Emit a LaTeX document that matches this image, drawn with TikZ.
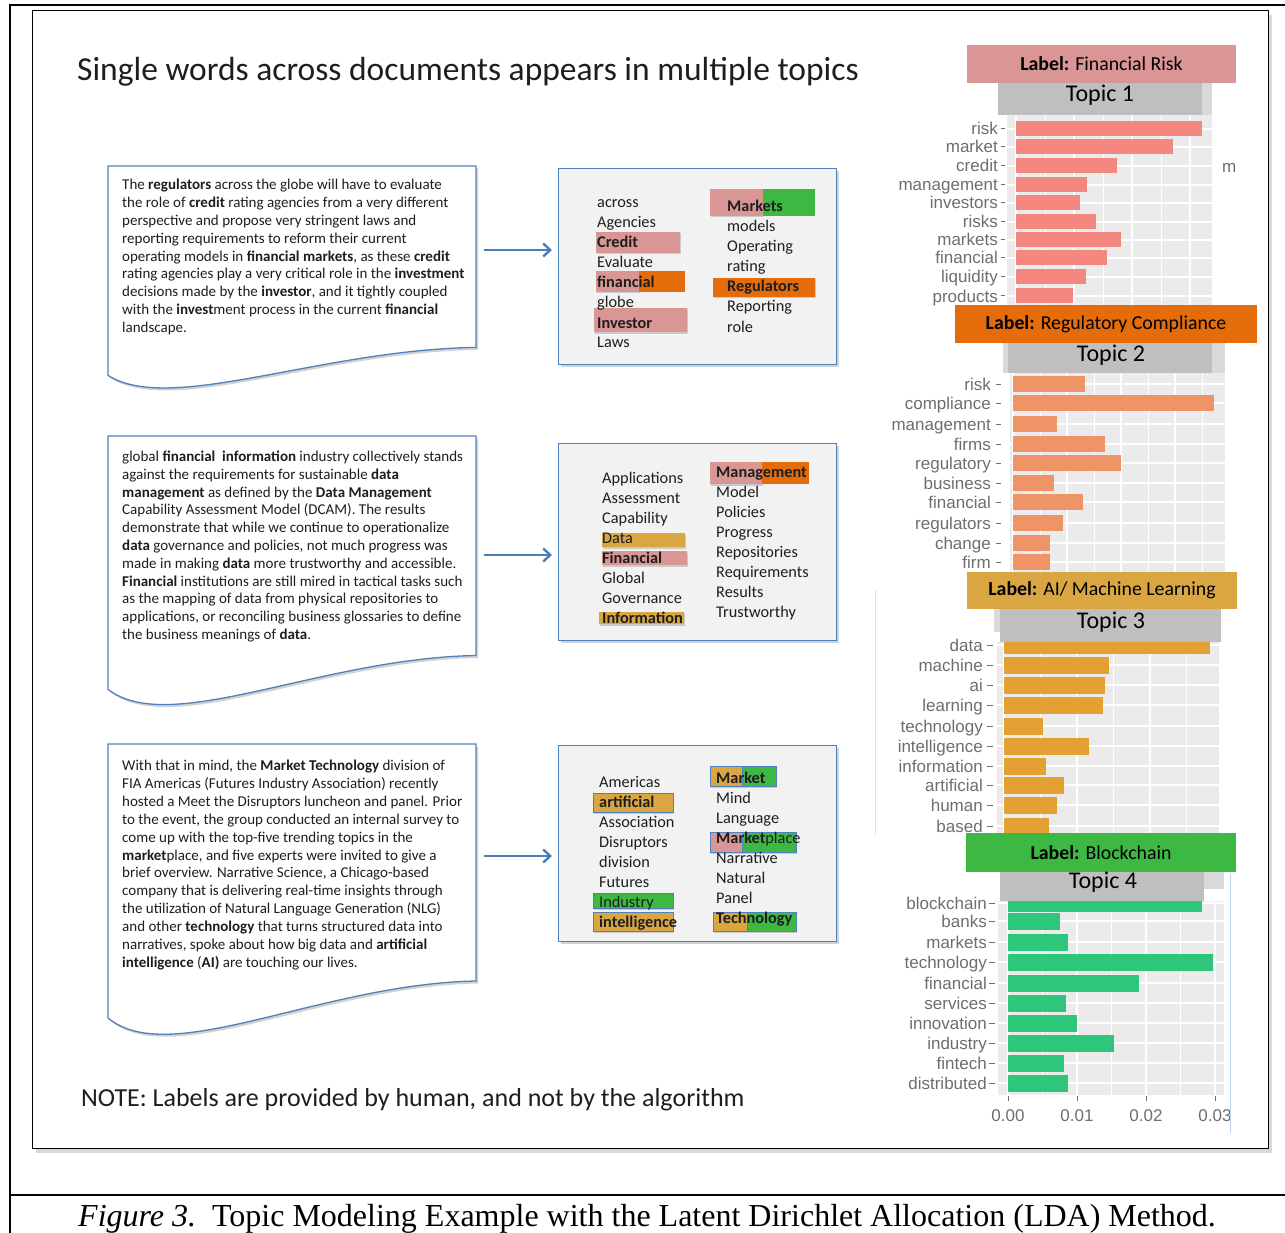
\documentclass[tikz,border=0pt]{standalone}
\usepackage{fontspec}
\setmainfont{Carlito}
\newfontfamily\arialf{Liberation Sans}
\newfontfamily\timesf{Liberation Serif}
\usetikzlibrary{arrows.meta,shadows}
\definecolor{pinkc}{HTML}{D99694}
\definecolor{orangec}{HTML}{E46C0A}
\definecolor{goldc}{HTML}{DAA642}
\definecolor{greenc}{HTML}{3DB843}
\definecolor{bluec}{HTML}{4F81BD}
\definecolor{arrowc}{HTML}{4A7EBB}
\definecolor{boxfill}{HTML}{F2F2F2}
\definecolor{panelc}{HTML}{EBEBEB}
\definecolor{stripc}{HTML}{BFBFBF}
\definecolor{striplc}{HTML}{D9D9D9}
\definecolor{barA}{HTML}{F4877F}
\definecolor{barB}{HTML}{EF9467}
\definecolor{barC}{HTML}{E3A033}
\definecolor{barD}{HTML}{2EC67B}
\definecolor{axisc}{HTML}{6E6E6E}
\definecolor{txtc}{HTML}{1E1E1E}
\begin{document}
\begin{tikzpicture}[x=1pt,y=-1pt,
  docshape/.style={draw=bluec,line width=1.3pt,fill=white,drop shadow={shadow xshift=2pt,shadow yshift=-2.5pt,opacity=0.35}},
  wbox/.style={draw=bluec,line width=1.2pt,fill=boxfill,inner sep=0pt,anchor=north west,drop shadow={shadow xshift=2pt,shadow yshift=-2.5pt,opacity=0.35}},
  hl/.style={drop shadow={shadow xshift=1.2pt,shadow yshift=-1.5pt,opacity=0.35}},
  hlb/.style={hl,draw=bluec,line width=1pt},
  flow/.style={draw=arrowc,line width=2.4pt,-{Straight Barb[length=7pt,width=13pt]}},
  dtext/.style={anchor=base west,inner sep=0pt,text=txtc,font=\fontsize{15}{17}\selectfont},
  wtext/.style={anchor=base west,inner sep=0pt,text=txtc,font=\fontsize{16.3}{18}\selectfont},
  albl/.style={anchor=base east,inner sep=0pt,text=axisc,font=\arialf\fontsize{17}{19}\selectfont},
  axl/.style={anchor=base,inner sep=0pt,text=axisc,font=\arialf\fontsize{17}{19}\selectfont},
  lbox/.style={inner sep=0pt,font=\fontsize{19.8}{22}\selectfont,text=black},
  topic/.style={anchor=base,inner sep=0pt,font=\fontsize{24}{26}\selectfont,text=black},
  major/.style={white,line width=1.2pt},
  minor/.style={white,line width=0.5pt}]
\useasboundingbox (0,0) rectangle (1285,1233);

% outer lines
\draw[line width=2.5pt] (10,5) -- (1285,5);
\draw[line width=1.5pt] (10,4) -- (10,1233);
\draw[line width=2pt] (10,1195) -- (1285,1195);

% inner frame
\node[draw=black,line width=1.3pt,fill=white,minimum width=1236,minimum height=1138,anchor=north west,inner sep=0pt,
  drop shadow={shadow xshift=3pt,shadow yshift=-4pt,opacity=0.3}] (frame) at (32,10) {};

% title
\node[anchor=base west,inner sep=0pt,font=\fontsize{33.5}{37}\selectfont,text=txtc] (title) at (77,81)
  {Single words across documents appears in multiple topics};

% documents
\path[docshape] (108,166) -- (476,166) -- (476,347.4) .. controls (320,349.7) and (170,414.6) .. (108,375.4) -- cycle;
\path[docshape] (108,436) -- (476,436) -- (476,655.5) .. controls (320,658.2) and (170,736.8) .. (108,689.4) -- cycle;
\path[docshape] (108,744) -- (476,744) -- (476,981) .. controls (320,984) and (170,1069) .. (108,1018) -- cycle;

\foreach \t [count=\i from 0] in {
 {The \textbf{regulators} across the globe will have to evaluate},
 {the role of \textbf{credit} rating agencies from a very different},
 {perspective and propose very stringent laws and},
 {reporting requirements to reform their current},
 {operating models in \textbf{financial markets}, as these \textbf{credit}},
 {rating agencies play a very critical role in the \textbf{investment}},
 {decisions made by the \textbf{investor}, and it tightly coupled},
 {with the \textbf{invest}ment process in the current \textbf{financial}},
 {landscape.}}
 \node[dtext] (da\i) at (122,190+17.8*\i) {\t};

\foreach \t [count=\i from 0] in {
 {global \textbf{financial\ \ information} industry collectively stands},
 {against the requirements for sustainable \textbf{data}},
 {\textbf{management} as defined by the \textbf{Data Management}},
 {Capability Assessment Model (DCAM). The results},
 {demonstrate that while we continue to operationalize},
 {\textbf{data} governance and policies, not much progress was},
 {made in making \textbf{data} more trustworthy and accessible.},
 {\textbf{Financial}\ institutions are still mired in tactical tasks such},
 {as the mapping of data from physical repositories to},
 {applications, or reconciling business glossaries to define},
 {the business meanings of \textbf{data}.}}
 \node[dtext] (db\i) at (122,461.5+17.8*\i) {\t};

\foreach \t [count=\i from 0] in {
 {With that in mind, the \textbf{Market Technology} division of},
 {FIA Americas (Futures Industry Association) recently},
 {hosted a Meet the Disruptors luncheon and panel. Prior},
 {to the event, the group conducted an internal survey to},
 {come up with the top-five trending topics in the},
 {\textbf{market}place, and five experts were invited to give a},
 {brief overview. Narrative Science, a Chicago-based},
 {company that is delivering real-time insights through},
 {the utilization of Natural Language Generation (NLG)},
 {and other \textbf{technology} that turns structured data into},
 {narratives, spoke about how big data and \textbf{artificial}},
 {\textbf{intelligence} (\textbf{AI)} are touching our lives.}}
 \node[dtext] (dc\i) at (122,770.5+17.9*\i) {\t};

% word boxes
\node[wbox,minimum width=278,minimum height=196] (box1) at (558,168) {};
\node[wbox,minimum width=278,minimum height=197] (box2) at (558,443) {};
\node[wbox,minimum width=278,minimum height=196] (box3) at (558,745) {};

% arrows
\coordinate (s1) at (484,250);
\coordinate (s2) at (484,555);
\coordinate (s3) at (484,856);
\draw[flow,shorten >=6pt] (s1) -- (s1 -| box1.west);
\draw[flow,shorten >=6pt] (s2) -- (s2 -| box2.west);
\draw[flow,shorten >=6pt] (s3) -- (s3 -| box3.west);

% highlights box 1
\fill[pinkc,hl] (596,232) rectangle (680,253);
\fill[pinkc,hl] (596,271) rectangle (639,292);
\fill[orangec] (639,271) rectangle (685,292);
\fill[pinkc,hl] (594,308) rectangle (687,332);
\fill[pinkc,hl] (710,189) rectangle (763,216);
\fill[greenc] (763,189) rectangle (815,216);
\fill[orangec,hl] (713,278) rectangle (815,297);
% highlights box 2
\fill[goldc,hl] (602,533) rectangle (685,547);
\fill[pinkc,hl] (602,551) rectangle (687,565);
\fill[goldc,hl] (599,612) rectangle (684,624);
\fill[pinkc,hl] (710,462) rectangle (762,484);
\fill[orangec] (762,462) rectangle (809,484);
% highlights box 3
\filldraw[fill=goldc,hlb] (593,793) rectangle (673,812);
\filldraw[fill=greenc,hlb] (593,893) rectangle (673,908);
\filldraw[fill=goldc,hlb] (593,912) rectangle (673,931);
\filldraw[fill=goldc,hlb] (710,766) rectangle (742,786);
\filldraw[fill=greenc,hlb] (742,766) rectangle (776,786);
\filldraw[fill=pinkc,hlb] (710,832) rectangle (742,852);
\filldraw[fill=greenc,hlb] (742,832) rectangle (796,852);
\filldraw[fill=goldc,hlb] (713,912) rectangle (747,931);
\filldraw[fill=greenc,hlb] (747,912) rectangle (796,931);

% words
\foreach \w [count=\i from 0] in {across,Agencies,\textbf{Credit},Evaluate,\textbf{financial},globe,\textbf{Investor},Laws}
  \node[wtext] (wa\i) at (597,208+20*\i) {\w};
\foreach \w [count=\i from 0] in {\textbf{Markets},models,Operating,rating,\textbf{Regulators},Reporting,role}
  \node[wtext] (wb\i) at (727,212+20*\i) {\w};
\foreach \w [count=\i from 0] in {Applications,Assessment,Capability,Data,\textbf{Financial},Global,Governance,\textbf{Information}}
  \node[wtext] (wc\i) at (602,483+20*\i) {\w};
\foreach \w [count=\i from 0] in {\textbf{Management},Model,Policies,Progress,Repositories,Requirements,Results,Trustworthy}
  \node[wtext] (wd\i) at (716,477+20*\i) {\w};
\foreach \w [count=\i from 0] in {Americas,\textbf{artificial},Association,Disruptors,division,Futures,Industry,\textbf{intelligence}}
  \node[wtext] (we\i) at (599,787+20*\i) {\w};
\foreach \w [count=\i from 0] in {\textbf{Market},Mind,Language,\textbf{Market}place,Narrative,Natural,Panel,\textbf{Technology}}
  \node[wtext] (wf\i) at (716,783+20*\i) {\w};

% ---------- charts ----------
\draw[gray!25,line width=0.8pt] (875,590) -- (875,835);

% chart 1
\fill[panelc] (1007,115) rectangle (1212,305);
\foreach \xx in {1016,1074,1132,1190} \draw[major] (\xx,115) -- (\xx,305);
\foreach \xx in {1045,1103,1161} \draw[minor] (\xx,115) -- (\xx,305);
\foreach \lab/\e/\yy in {risk/1202/129,market/1173/147,credit/1117/166,management/1087/185,investors/1080/203,risks/1096/222,markets/1121/240,financial/1107/258,liquidity/1086/277,products/1073/296}{
  \draw[major] (1007,\yy) -- (1212,\yy);
  \fill[barA] (1016,\yy-7.5) rectangle (\e,\yy+7.5);
  \node[albl] (ca\lab) at (998,\yy+6) {\lab};
  \draw[axisc,line width=1pt] (1001,\yy) -- (1005,\yy);
}
\begin{scope}
\clip (1218,150) rectangle (1236,180);
\node[albl,anchor=base west] (cfrag) at (1222,173) {m};
\end{scope}

% chart 2
\fill[panelc] (1010,373) rectangle (1225,572);
\foreach \xx in {1013,1067,1121,1175} \draw[major] (\xx,373) -- (\xx,572);
\foreach \xx in {1040,1094,1148,1202} \draw[minor] (\xx,373) -- (\xx,572);
\foreach \lab/\e/\yy in {risk/1085/384,compliance/1214/403,management/1057/424,firms/1105/444,regulatory/1121/463,business/1054/483,financial/1083/502,regulators/1063/523,change/1050/543,firm/1050/562}{
  \draw[major] (1010,\yy) -- (1225,\yy);
  \fill[barB] (1013,\yy-8) rectangle (\e,\yy+8);
  \node[albl] (cb\lab) at (991,\yy+6) {\lab};
  \draw[axisc,line width=1pt] (996,\yy) -- (1001,\yy);
}

% chart 3
\fill[panelc] (997,642) rectangle (1219,833);
\foreach \xx in {1004,1077,1150} \draw[major] (\xx,642) -- (\xx,833);
\foreach \xx in {1040.5,1113.5,1186.5} \draw[minor] (\xx,642) -- (\xx,833);
\foreach \lab/\e/\yy in {data/1210/645,machine/1109/665,ai/1105/685,learning/1103/705,technology/1043/726,intelligence/1089/746,information/1046/766,artificial/1064/785,human/1057/805,based/1049/826}{
  \draw[major] (997,\yy) -- (1219,\yy);
  \fill[barC] (1004,\yy-8.5) rectangle (\e,\yy+8.5);
  \node[albl] (cc\lab) at (983,\yy+6) {\lab};
  \draw[axisc,line width=1pt] (987,\yy) -- (993,\yy);
}

% chart 4
\fill[panelc] (998,901) rectangle (1224,1095);
\foreach \xx in {1008,1077,1146,1215} \draw[major] (\xx,901) -- (\xx,1095);
\foreach \xx in {1042.5,1111.5,1180.5} \draw[minor] (\xx,901) -- (\xx,1095);
\foreach \lab/\e/\yy in {blockchain/1202/903,banks/1060/921,markets/1068/942,technology/1213/962,financial/1139/983,services/1066/1003,innovation/1077/1023,industry/1114/1043,fintech/1064/1063,distributed/1068/1083}{
  \draw[major] (998,\yy) -- (1224,\yy);
  \fill[barD] (1008,\yy-8.5) rectangle (\e,\yy+8.5);
  \node[albl] (cd\lab) at (987,\yy+6) {\lab};
  \draw[axisc,line width=1pt] (989,\yy) -- (995,\yy);
}
\foreach \xx in {1008,1077,1146,1215} \draw[axisc,line width=1pt] (\xx,1096) -- (\xx,1101);
\begin{scope}
\clip (960,1100) rectangle (1231,1140);
\foreach \v/\xx in {0.00/1008,0.01/1077,0.02/1146,0.03/1215}
  \node[axl] (tk\xx) at (\xx,1121) {\v};
\end{scope}
\draw[bluec!35,line width=1pt] (1230,873) -- (1230,1133);

% strips
\fill[striplc] (998,83) rectangle (1212,115);
\fill[stripc] (998,83) rectangle (1202,115);
\fill[striplc] (1003,343) rectangle (1225,373);
\fill[stripc] (1008,343) rectangle (1212,373);
\fill[striplc] (994,609) rectangle (1221,632);
\fill[stripc] (1000,609) rectangle (1221,642);
\fill[striplc] (1000,870) rectangle (1224,889);
\fill[stripc] (1000,872) rectangle (1204,901);

% label boxes
\node[lbox,fill=pinkc,minimum width=269,minimum height=38] (lab1) at (1101.5,64) {\textbf{Label:} Financial Risk};
\node[lbox,fill=orangec,minimum width=302,minimum height=38] (lab2) at (1106,324) {\textbf{Label:} Regulatory Compliance};
\node[lbox,fill=goldc,minimum width=270,minimum height=37] (lab3) at (1102,590.5) {\textbf{Label:} AI/ Machine Learning};
\node[lbox,fill=greenc,minimum width=270,minimum height=39] (lab4) at (1101,852.5) {\textbf{Label:} Blockchain};

% topic titles
\node[topic] (tp1) at (1100,102) {Topic 1};
\node[topic] (tp2) at (1111,361) {Topic 2};
\node[topic] (tp3) at (1111,628) {Topic 3};
\node[topic] (tp4) at (1103,888) {Topic 4};

% note
\node[anchor=base west,inner sep=0pt,font=\fontsize{26}{29}\selectfont,text=txtc] (note) at (81,1106)
  {NOTE: Labels are provided by human, and not by the algorithm};

% caption
\node[anchor=base west,inner sep=0pt,font=\timesf\fontsize{32}{36}\selectfont] (cap) at (78,1226)
  {\textit{Figure 3.}\ \ Topic Modeling Example with the Latent Dirichlet Allocation (LDA) Method.};
\end{tikzpicture}
\end{document}
